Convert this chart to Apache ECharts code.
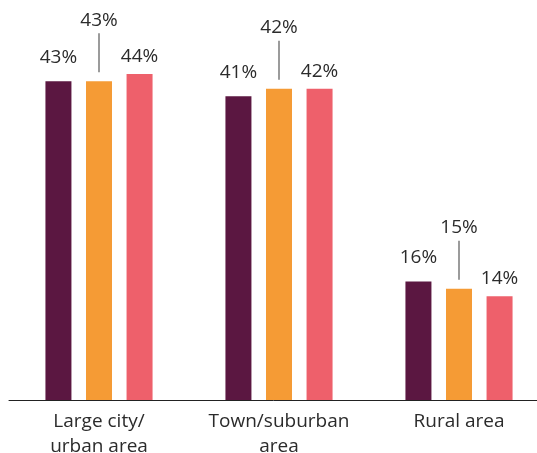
<!DOCTYPE html>
<html>
<head>
<meta charset="utf-8">
<script src="https://cdn.jsdelivr.net/npm/echarts@6/dist/echarts.min.js"></script>
<style>
  html, body { margin: 0; padding: 0; background: #fff; }
  #chart { width: 537px; height: 453px; }
</style>
</head>
<body>
<div id="chart"></div>
<script>
// Share of respondents by type of area, three groups per area
const categories = ['Large city/\nurban area', 'Town/suburban\narea', 'Rural area'];
const seriesA = [43, 41, 16];
const seriesB = [43, 42, 15];
const seriesC = [44, 42, 14];

const FONT = '"Open Sans", "Noto Sans", sans-serif';
const TEXT_COLOR = '#2b2b2b';
const FONT_SIZE = 19;
const BAR_WIDTH = 26;
const BAR_GAP = '56%';

const chart = echarts.init(document.getElementById('chart'), null, { renderer: 'canvas' });

const sideLabel = (distance) => ({
  show: true,
  position: 'top',
  distance: distance,
  formatter: '{c}%',
  fontFamily: FONT,
  fontSize: FONT_SIZE,
  fontWeight: 'normal',
  color: TEXT_COLOR
});

chart.setOption({
  animation: false,
  grid: { left: 9, right: -12, top: 29.5, bottom: 53, outerBoundsMode: 'none', containLabel: false },
  xAxis: {
    type: 'category',
    data: categories,
    axisLine: { show: true, lineStyle: { color: '#222', width: 1 } },
    axisTick: { show: false },
    axisLabel: {
      interval: 0,
      margin: 9,
      fontFamily: FONT,
      fontSize: FONT_SIZE,
      fontWeight: 'normal',
      lineHeight: 25,
      color: TEXT_COLOR
    }
  },
  yAxis: {
    type: 'value',
    min: 0,
    max: 50,
    show: false,
    splitLine: { show: false }
  },
  series: [
    {
      type: 'bar',
      data: seriesA,
      barWidth: BAR_WIDTH,
      barGap: BAR_GAP,
      itemStyle: { color: '#5b1741' },
      label: sideLabel(14)
    },
    {
      type: 'bar',
      data: seriesB,
      barWidth: BAR_WIDTH,
      barGap: BAR_GAP,
      itemStyle: { color: '#f59b35' }
    },
    {
      type: 'bar',
      data: seriesC,
      barWidth: BAR_WIDTH,
      barGap: BAR_GAP,
      itemStyle: { color: '#ee606b' },
      label: sideLabel(8)
    },
    {
      // Raised labels with a leader line for the middle bar of each group
      type: 'custom',
      data: seriesB.map((v, i) => [i, v]),
      silent: true,
      z: 5,
      renderItem: function (params, api) {
        const p = api.coord([api.value(0), api.value(1)]);
        return {
          type: 'group',
          children: [
            {
              type: 'line',
              shape: { x1: p[0], y1: p[1] - 9, x2: p[0], y2: p[1] - 48 },
              style: { stroke: '#7a7a7a', lineWidth: 1.5 }
            },
            {
              type: 'text',
              style: {
                text: api.value(1) + '%',
                x: p[0],
                y: p[1] - 61,
                align: 'center',
                verticalAlign: 'middle',
                fontFamily: FONT,
                fontSize: FONT_SIZE,
                fill: TEXT_COLOR
              }
            }
          ]
        };
      }
    }
  ]
});
</script>
</body>
</html>
